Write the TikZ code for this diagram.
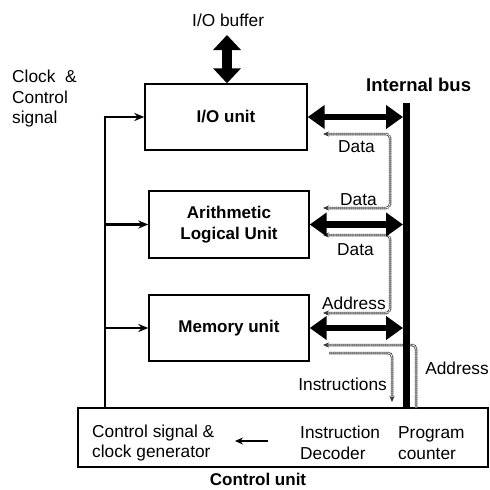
\documentclass[tikz,border=0pt]{standalone}
\usepackage{fontspec}
\setmainfont{Liberation Sans}
\usetikzlibrary{arrows.meta}
\begin{document}
\begin{tikzpicture}[x=1pt,y=-1pt,
  box/.style={draw, line width=1.4pt, inner sep=0pt, align=center, font=\fontsize{17}{20.5}\selectfont\bfseries},
  lbl/.style={inner sep=0pt, font=\fontsize{17.3}{20.5}\selectfont, align=left},
  bigarrow/.style={line width=6.5pt, {Triangle[length=17pt,width=23pt]}-{Triangle[length=17pt,width=23pt]}},
  ctlarrow/.style={line width=2.8pt, -{Stealth[length=10pt,width=8pt]}},
  sig/.style={draw=black!80, line width=0.8pt, double=white, double distance=0.9pt, rounded corners=4pt,
     dash pattern=on 1.4pt off 0.5pt},
  sigtip/.style={-{Stealth[length=6pt,width=5pt,fill=black!80]}},
  sigtips/.style={{Stealth[length=6pt,width=5pt,fill=black!80]}-{Stealth[length=6pt,width=5pt,fill=black!80]}}
]
\useasboundingbox (0,0) rectangle (490,490);
% boxes
\node[box, minimum width=162pt, minimum height=66pt] (io) at (226,117) {I/O unit};
\node[box, minimum width=160pt, minimum height=67pt] (alu) at (229,224.5) {Arithmetic\\Logical Unit};
\node[box, minimum width=160pt, minimum height=66pt] (mem) at (229,328) {Memory unit};
\node[draw, line width=1.4pt, minimum width=410pt, minimum height=59pt, inner sep=0pt] (cu) at (283,437.5) {};
% coordinates
\coordinate (bus) at (403,0);
\coordinate (bustop) at (406.5,103);
\coordinate (busbot) at (406.5,408);
\coordinate (clk) at (105,0);
\coordinate (iobuf) at (227,35);
% labels
\node[lbl, anchor=south west] (iobuflbl) at (192,27) {I/O buffer};
\node[lbl, anchor=west, font=\fontsize{18.5}{22}\selectfont\bfseries] (buslbl) at (366,85) {Internal bus};
\node[lbl, anchor=north west] (clklbl) at (12,70) {Clock~~\&\\Control\\signal};
\node[lbl, anchor=west] (d1) at (338,147) {Data};
\node[lbl, anchor=west] (d2) at (340,200) {Data};
\node[lbl, anchor=west] (d3) at (337,250) {Data};
\node[lbl, anchor=west] (a1) at (322,303) {Address};
\node[lbl, anchor=east] (a2) at (489,368) {Address};
\node[lbl, anchor=east] (ins) at (387,384) {Instructions};
\node[lbl, anchor=west] (csg) at (92,443) {Control signal \&\\clock generator};
\node[lbl, anchor=west] (idec) at (300,443) {Instruction\\Decoder};
\node[lbl, anchor=west] (pc) at (398,443) {Program\\counter};
\node[lbl, anchor=north, font=\fontsize{17}{20}\selectfont\bfseries] (culbl) at (258,473) {Control unit};
% control lines
\draw[line width=2.8pt] (cu.north -| clk) -- (clk |- io.west);
\draw[ctlarrow] ([xshift=-1.4pt]clk |- io.west) -- (io.west);
\draw[ctlarrow] (clk |- alu.west) -- (alu.west);
\draw[ctlarrow] (clk |- mem.west) -- (mem.west);
% I/O buffer
\draw[line width=10pt, {Triangle[length=15pt,width=27pt]}-{Triangle[length=15pt,width=27pt]}] (iobuf) -- (io.north -| iobuf);
% signal paths
\draw[sig, sigtips] (323,134) -- (390,134) -- (390,208) -- (323,208);
\draw[sig, sigtips] (323,235) -- (390,235) -- (390,313) -- (323,313);
\draw[sig, sigtip] (busbot -| 416,0) -- (416,345) -- (323,345);
\draw[sig, sigtip] (329,353) -- (392,353) -- (392,402);
% thick bus arrows
\draw[bigarrow] (io.east) -- (io.east -| bus);
\draw[bigarrow] (alu.east) -- (alu.east -| bus);
\draw[bigarrow] (mem.east) -- (mem.east -| bus);
% internal bus
\draw[line width=7pt] (bustop) -- (busbot);
% decoder arrow
\draw[line width=1.5pt, -{Stealth[length=8pt,width=7pt]}] (268,441) -- (235,441);
\end{tikzpicture}
\end{document}
